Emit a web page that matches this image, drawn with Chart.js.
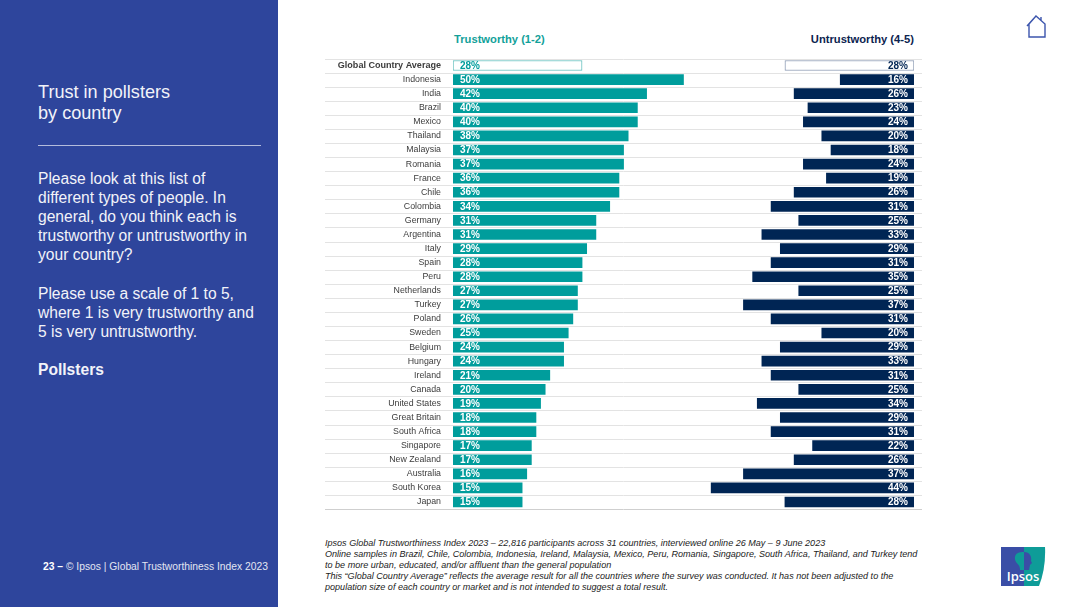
<!DOCTYPE html>
<html>
<head>
<meta charset="utf-8">
<title>Trust in pollsters by country</title>
<script src="https://cdn.jsdelivr.net/npm/chart.js@4/dist/chart.umd.min.js"></script>
<style>
  html, body { margin: 0; padding: 0; background: #fff; }
  body { position: relative; width: 1080px; height: 607px; overflow: hidden; font-family: "Liberation Sans", Arial, sans-serif; }
  .side { position: absolute; left: 0; top: 0; width: 278px; height: 607px; background: #2e459c; color: #f2f3f9; }
  .side__title { position: absolute; left: 38px; top: 82px; font-size: 18.1px; line-height: 21.2px; }
  .side__rule { position: absolute; left: 38px; top: 145px; width: 223px; height: 1px; background: #b4bcdc; }
  .side__text { position: absolute; left: 38px; top: 169px; width: 235px; font-size: 15.6px; line-height: 19.1px; white-space: nowrap; }
  .side__text p { margin: 0 0 19.1px; }
  .side__foot { position: absolute; left: 43px; top: 560px; font-size: 10.3px; line-height: 13px; color: #e3e6f2; white-space: nowrap; }
  .side__foot b { color: #fff; }
  .head { position: absolute; top: 33px; font-size: 11.2px; line-height: 13px; font-weight: bold; white-space: nowrap; }
  .head--good { left: 454px; color: #12a19a; }
  .head--bad { right: 166px; color: #0c2450; }
  #chart-box { position: absolute; left: 320px; top: 51px; width: 610px; height: 465px; }
  .note { position: absolute; left: 325px; top: 538px; width: 620px; font-size: 9.05px; line-height: 10.9px; font-style: italic; color: #222; white-space: nowrap; }
  .home { position: absolute; left: 1026px; top: 14px; }
  .logo { position: absolute; left: 1001px; top: 546px; }
</style>
</head>
<body>

<div class="side">
  <div class="side__title">Trust in pollsters<br>by country</div>
  <div class="side__rule"></div>
  <div class="side__text">
    <p>Please look at this list of<br>different types of people. In<br>general, do you think each is<br>trustworthy or untrustworthy in<br>your country?</p>
    <p>Please use a scale of 1 to 5,<br>where 1 is very trustworthy and<br>5 is very untrustworthy.</p>
    <p><b>Pollsters</b></p>
  </div>
  <div class="side__foot"><b>23 –</b> © Ipsos | Global Trustworthiness Index 2023</div>
</div>

<div class="head head--good">Trustworthy (1-2)</div>
<div class="head head--bad">Untrustworthy (4-5)</div>

<div id="chart-box"><canvas id="chart"></canvas></div>

<div class="note">
  Ipsos Global Trustworthiness Index 2023 – 22,816 participants across 31 countries, interviewed online 26 May – 9 June 2023<br>
  Online samples in Brazil, Chile, Colombia, Indonesia, Ireland, Malaysia, Mexico, Peru, Romania, Singapore, South Africa, Thailand, and Turkey tend<br>
  to be more urban, educated, and/or affluent than the general population<br>
  This “Global Country Average” reflects the average result for all the countries where the survey was conducted. It has not been adjusted to the<br>
  population size of each country or market and is not intended to suggest a total result.
</div>

<svg class="home" width="21" height="24" viewBox="0 0 21 24" fill="none" stroke="#3c55ad" stroke-width="1.4">
  <path d="M3 23 V10 L10 2 L19 10 V23 Z M1 12 L10 2 M15 3 V6"/>
</svg>

<svg class="logo" width="45" height="41" viewBox="0 0 45 41">
  <path d="M0 1 H44 Q45 22 38 40 H0 Z" fill="#0e9c98"/>
  <path d="M0 1 H23 V40 H0 Z" fill="#3a4ea6"/>
  <path d="M23 6 C15 5 12 11 15 16 C17 19 19 19 19 24 H23 Z" fill="#0e9c98"/>
  <path d="M23 6 C29 6 31 11 30 15 L31 17 L29 19 L28 24 H23 Z" fill="#3a4ea6"/>
  <text x="22" y="34.5" text-anchor="middle" font-family="Open Sans, sans-serif" font-size="13" font-weight="600" fill="#fff">Ipsos</text>
</svg>

<script>
// --- Data ---
const countries = ['Global Country Average', 'Indonesia', 'India', 'Brazil', 'Mexico', 'Thailand', 'Malaysia', 'Romania',
  'France', 'Chile', 'Colombia', 'Germany', 'Argentina', 'Italy', 'Spain', 'Peru', 'Netherlands', 'Turkey', 'Poland',
  'Sweden', 'Belgium', 'Hungary', 'Ireland', 'Canada', 'United States', 'Great Britain', 'South Africa', 'Singapore',
  'New Zealand', 'Australia', 'South Korea', 'Japan'];
const trustworthy = [28, 50, 42, 40, 40, 38, 37, 37, 36, 36, 34, 31, 31, 29, 28, 28, 27, 27, 26, 25, 24, 24, 21, 20, 19, 18, 18, 17, 17, 16, 15, 15];
const untrustworthy = [28, 16, 26, 23, 24, 20, 18, 24, 19, 26, 31, 25, 33, 29, 31, 35, 25, 37, 31, 20, 29, 33, 31, 25, 34, 29, 31, 22, 26, 37, 44, 28];

const TEAL = '#009d9c';
const NAVY = '#002554';

// --- Row lines, they run past the plot on both sides ---
const rowLines = {
  id: 'rowLines',
  beforeDatasetsDraw(chart) {
    const { ctx, scales: { y }, chartArea } = chart;
    const step = y.getPixelForValue(1) - y.getPixelForValue(0);
    ctx.save();
    ctx.strokeStyle = '#e3e3e3';
    ctx.lineWidth = 1;
    countries.forEach((c, i) => {
      const top = Math.round(y.getPixelForValue(i) - step / 2) + 0.5;
      ctx.beginPath(); ctx.moveTo(5, top); ctx.lineTo(chartArea.right + 8, top); ctx.stroke();
    });
    const end = Math.round(y.getPixelForValue(countries.length - 1) + step / 2) + 0.5;
    ctx.strokeStyle = '#cfcfcf';
    ctx.beginPath(); ctx.moveTo(5, end); ctx.lineTo(chartArea.right + 8, end); ctx.stroke();
    ctx.restore();
  }
};

// --- Value labels inside the bars ---
const barLabels = {
  id: 'barLabels',
  afterDatasetsDraw(chart) {
    const { ctx } = chart;
    ctx.save();
    ctx.font = 'bold 10px "Liberation Sans", Arial, sans-serif';
    ctx.textBaseline = 'middle';
    chart.data.datasets.forEach((ds, d) => {
      const meta = chart.getDatasetMeta(d);
      const left = d === 0;
      ctx.textAlign = left ? 'left' : 'right';
      meta.data.forEach((bar, i) => {
        ctx.fillStyle = i === 0 ? (left ? TEAL : NAVY) : '#fff';
        ctx.fillText(ds.data[i] + '%', bar.base + (left ? 7 : -6), bar.y + 0.5);
      });
    });
    ctx.restore();
  }
};

new Chart(document.getElementById('chart'), {
  type: 'bar',
  data: {
    labels: countries,
    datasets: [
      {
        label: 'Trustworthy (1-2)', data: trustworthy, xAxisID: 'x',
        backgroundColor: trustworthy.map((v, i) => i === 0 ? '#fff' : TEAL),
        borderColor: trustworthy.map((v, i) => i === 0 ? '#62bfbd' : TEAL),
        borderWidth: trustworthy.map((v, i) => i === 0 ? 1 : 0),
        borderSkipped: false
      },
      {
        label: 'Untrustworthy (4-5)', data: untrustworthy, xAxisID: 'x2',
        backgroundColor: untrustworthy.map((v, i) => i === 0 ? '#fff' : NAVY),
        borderColor: untrustworthy.map((v, i) => i === 0 ? '#8c9bb4' : NAVY),
        borderWidth: untrustworthy.map((v, i) => i === 0 ? 1 : 0),
        borderSkipped: false
      }
    ]
  },
  options: {
    indexAxis: 'y',
    responsive: true, maintainAspectRatio: false, animation: false,
    layout: { padding: { top: 7.5, bottom: 7, left: 0, right: 16 } },
    datasets: { bar: { barThickness: 10, grouped: false } },
    plugins: { legend: { display: false }, tooltip: { enabled: false } },
    scales: {
      x: { min: 0, max: 100, display: false },
      x2: { min: 0, max: 100, reverse: true, display: false },
      y: {
        grid: { display: false, drawTicks: false },
        border: { display: false },
        afterFit(axis) { axis.width = 133; axis.paddingTop = 0; axis.paddingBottom = 0; },
        ticks: {
          autoSkip: false, padding: 12, color: '#3c3c3c',
          font: ctx => ({ size: ctx.index === 0 ? 9.05 : 8.8, family: '"Liberation Sans", Arial, sans-serif', weight: ctx.index === 0 ? 'bold' : 'normal' })
        }
      }
    }
  },
  plugins: [rowLines, barLabels]
});
</script>
</body>
</html>
